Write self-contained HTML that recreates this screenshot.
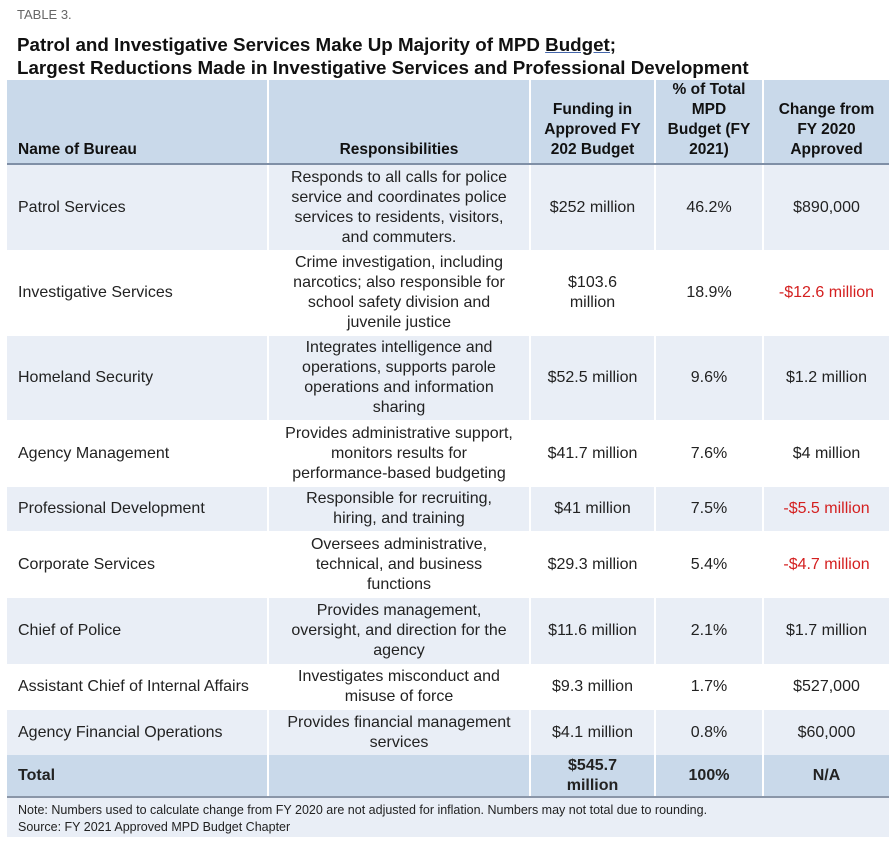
<!DOCTYPE html>
<html><head><meta charset="utf-8"><style>
body{margin:0;background:#fff;width:895px;height:845px;position:relative;font-family:"Liberation Sans",sans-serif;color:#222;}
.tag{position:absolute;left:17px;top:7px;font-size:13px;color:#666;}
.title{position:absolute;left:17px;top:33px;font-weight:bold;font-size:18.8px;line-height:23px;color:#111;}
.title u{text-decoration-color:#4466aa;}
table{position:absolute;left:7px;top:80px;width:882px;border-collapse:collapse;table-layout:fixed;}
td,th{font-size:16px;line-height:20px;text-align:center;vertical-align:middle;padding:0 4px;border-left:2px solid #fff;border-right:2px solid #fff;white-space:nowrap;}
td:first-child,th:first-child{text-align:left;padding-left:11px;border-left:none}
td:last-child,th:last-child{border-right:none}
thead th{background:#c9d9ea;font-size:15.5px;font-weight:bold;vertical-align:bottom;padding-bottom:3px;border-bottom:2px solid #7f8fa6;color:#111;}
tr.l td{background:#e9eef6}
tr.w td{background:#fff}
tr.t td{background:#c9d9ea;font-weight:bold;border-bottom:2px solid #8a96a8;}
.red{color:#d42020}
.note{position:absolute;left:7px;top:798px;height:39px;background:#e9eef6;font-size:12.5px;line-height:17px;padding:4px 0 0 11px;box-sizing:border-box;width:882px;color:#222;}
</style></head><body>
<div class="tag">TABLE 3.</div>
<div class="title">Patrol and Investigative Services Make Up Majority of MPD <u>Budget;</u><br>Largest Reductions Made in Investigative Services and Professional Development</div>
<table>
<colgroup><col style="width:261px"><col style="width:262px"><col style="width:125px"><col style="width:108px"><col style="width:126px"></colgroup>
<thead><tr style="height:84px"><th>Name of Bureau</th><th>Responsibilities</th><th>Funding in<br>Approved FY<br>202 Budget</th><th>% of Total<br>MPD<br>Budget (FY<br>2021)</th><th>Change from<br>FY 2020<br>Approved</th></tr></thead>
<tbody>
<tr class="l" style="height:86px"><td>Patrol Services</td><td>Responds to all calls for police<br>service and coordinates police<br>services to residents, visitors,<br>and commuters.</td><td>$252 million</td><td>46.2%</td><td>$890,000</td></tr>
<tr class="w" style="height:86px"><td>Investigative Services</td><td>Crime investigation, including<br>narcotics; also responsible for<br>school safety division and<br>juvenile justice</td><td>$103.6<br>million</td><td>18.9%</td><td class="red">-$12.6 million</td></tr>
<tr class="l" style="height:84px"><td>Homeland Security</td><td>Integrates intelligence and<br>operations, supports parole<br>operations and information<br>sharing</td><td>$52.5 million</td><td>9.6%</td><td>$1.2 million</td></tr>
<tr class="w" style="height:67px"><td>Agency Management</td><td>Provides administrative support,<br>monitors results for<br>performance-based budgeting</td><td>$41.7 million</td><td>7.6%</td><td>$4 million</td></tr>
<tr class="l" style="height:44px"><td>Professional Development</td><td>Responsible for recruiting,<br>hiring, and training</td><td>$41 million</td><td>7.5%</td><td class="red">-$5.5 million</td></tr>
<tr class="w" style="height:67px"><td>Corporate Services</td><td>Oversees administrative,<br>technical, and business<br>functions</td><td>$29.3 million</td><td>5.4%</td><td class="red">-$4.7 million</td></tr>
<tr class="l" style="height:66px"><td>Chief of Police</td><td>Provides management,<br>oversight, and direction for the<br>agency</td><td>$11.6 million</td><td>2.1%</td><td>$1.7 million</td></tr>
<tr class="w" style="height:46px"><td>Assistant Chief of Internal Affairs</td><td>Investigates misconduct and<br>misuse of force</td><td>$9.3 million</td><td>1.7%</td><td>$527,000</td></tr>
<tr class="l" style="height:45px"><td>Agency Financial Operations</td><td>Provides financial management<br>services</td><td>$4.1 million</td><td>0.8%</td><td>$60,000</td></tr>
<tr class="t" style="height:42px"><td>Total</td><td></td><td>$545.7<br>million</td><td>100%</td><td>N/A</td></tr>
</tbody></table>
<div class="note">Note: Numbers used to calculate change from FY 2020 are not adjusted for inflation. Numbers may not total due to rounding.<br>Source: FY 2021 Approved MPD Budget Chapter</div>
</body></html>
